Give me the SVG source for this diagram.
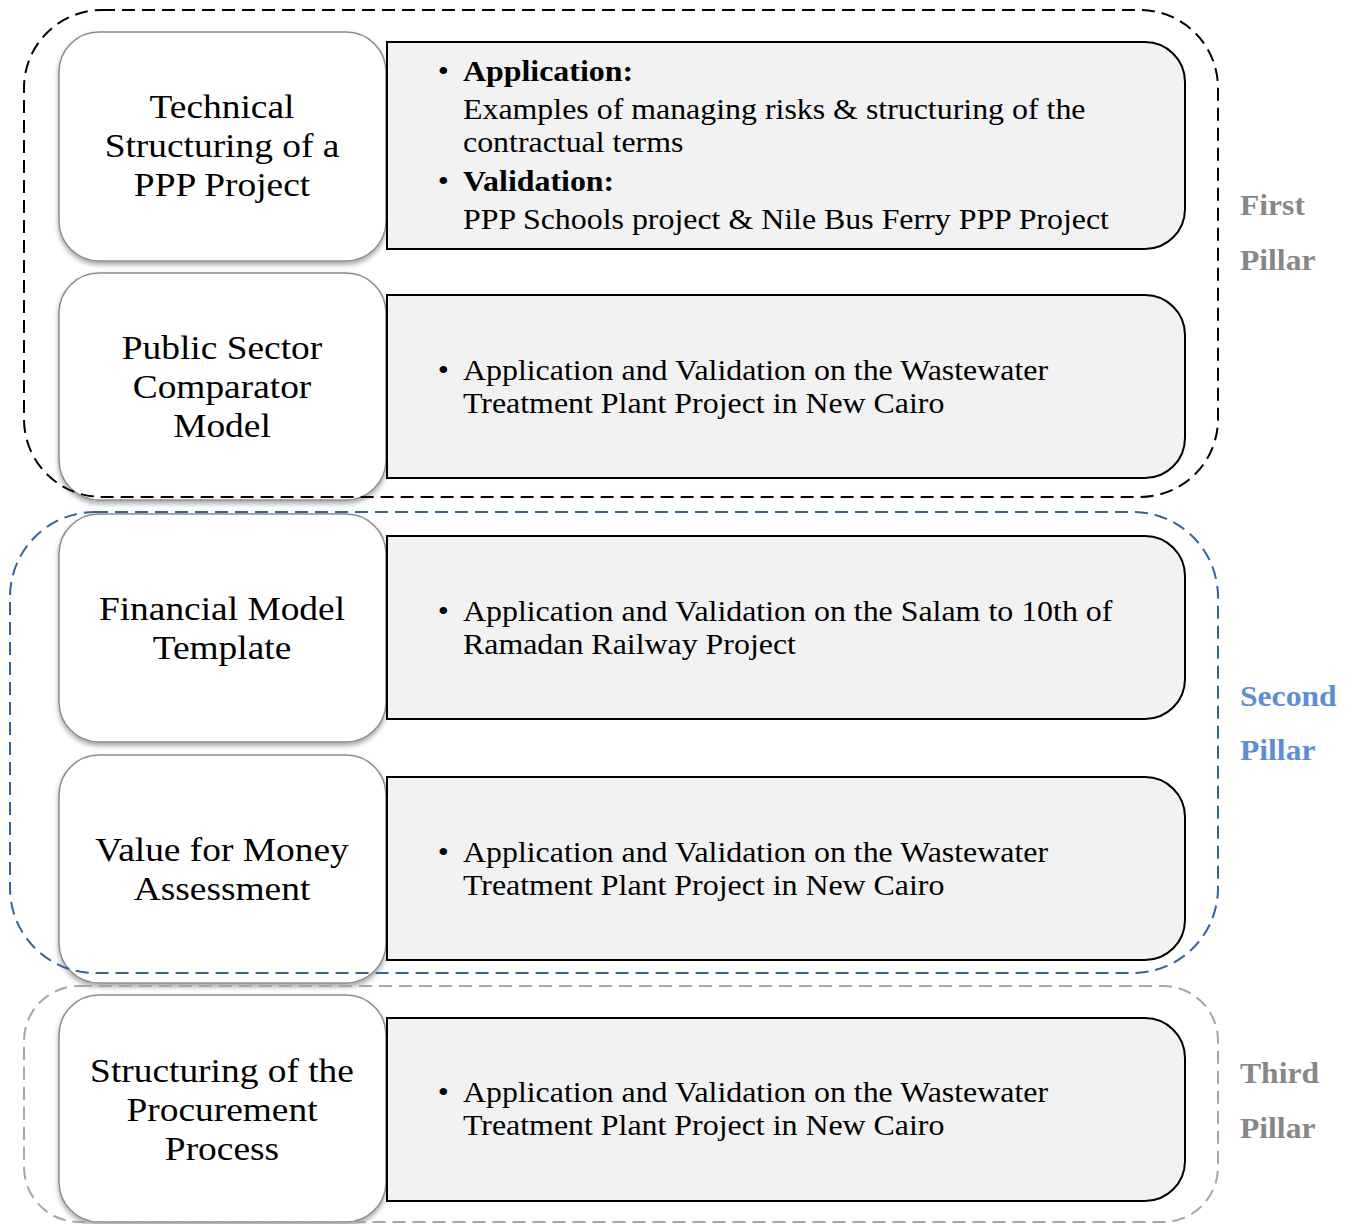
<svg xmlns="http://www.w3.org/2000/svg" width="1355" height="1224" viewBox="0 0 1355 1224">
<style>
.lbox{fill:#fff;stroke:#8c8c8c;stroke-width:1.5;filter:url(#sh)}
.rbox{fill:#f2f2f2;stroke:#000;stroke-width:2}
.lt{font-family:"Liberation Serif",serif;font-size:34px;fill:#000;text-anchor:middle}
.rt{font-family:"Liberation Serif",serif;font-size:29px;fill:#000}
.b{font-weight:bold}
.pl{font-family:"Liberation Serif",serif;font-size:29px;font-weight:bold}
.c{fill:none;stroke-width:2;stroke-dasharray:13 7}
</style>
<defs>
<filter id="sh" x="-10%" y="-10%" width="120%" height="125%">
<feDropShadow dx="0" dy="3" stdDeviation="2.5" flood-color="#000" flood-opacity="0.35"/>
</filter>
</defs>
<rect width="1355" height="1224" fill="#fff"/>

<g id="rows">
<g id="row1">
<rect class="lbox" x="59" y="32" width="327" height="229" rx="40"/>
<g transform="translate(222 0) scale(1.1 1) translate(-222 0)">
<text class="lt" x="222" y="118">Technical</text>
<text class="lt" x="222" y="157">Structuring of a</text>
<text class="lt" x="222" y="196">PPP Project</text>
</g>
<path class="rbox" d="M387 42 H1145 A40 40 0 0 1 1185 82 V209 A40 40 0 0 1 1145 249 H387 Z"/>
<g transform="translate(463 0) scale(1.1 1) translate(-463 0)">
<text class="rt" x="440" y="81">•</text><text class="rt b" x="463" y="81">Application:</text>
<text class="rt" x="463" y="119">Examples of managing risks &amp; structuring of the</text>
<text class="rt" x="463" y="152">contractual terms</text>
<text class="rt" x="440" y="191">•</text><text class="rt b" x="463" y="191">Validation:</text>
<text class="rt" x="463" y="229">PPP Schools project &amp; Nile Bus Ferry PPP Project</text>
</g>
</g>
<g id="row2">
<rect class="lbox" x="59" y="273" width="327" height="227" rx="40"/>
<g transform="translate(222 0) scale(1.1 1) translate(-222 0)">
<text class="lt" x="222" y="359">Public Sector</text>
<text class="lt" x="222" y="398">Comparator</text>
<text class="lt" x="222" y="437">Model</text>
</g>
<path class="rbox" d="M387 295 H1145 A40 40 0 0 1 1185 335 V438 A40 40 0 0 1 1145 478 H387 Z"/>
<g transform="translate(463 0) scale(1.1 1) translate(-463 0)">
<text class="rt" x="440" y="380">•</text><text class="rt" x="463" y="380">Application and Validation on the Wastewater</text>
<text class="rt" x="463" y="413">Treatment Plant Project in New Cairo</text>
</g>
</g>
<g id="row3">
<rect class="lbox" x="59" y="514" width="327" height="228" rx="40"/>
<g transform="translate(222 0) scale(1.1 1) translate(-222 0)">
<text class="lt" x="222" y="620">Financial Model</text>
<text class="lt" x="222" y="659">Template</text>
</g>
<path class="rbox" d="M387 536 H1145 A40 40 0 0 1 1185 576 V679 A40 40 0 0 1 1145 719 H387 Z"/>
<g transform="translate(463 0) scale(1.1 1) translate(-463 0)">
<text class="rt" x="440" y="621">•</text><text class="rt" x="463" y="621">Application and Validation on the Salam to 10th of</text>
<text class="rt" x="463" y="654">Ramadan Railway Project</text>
</g>
</g>
<g id="row4">
<rect class="lbox" x="59" y="755" width="327" height="228" rx="40"/>
<g transform="translate(222 0) scale(1.1 1) translate(-222 0)">
<text class="lt" x="222" y="861">Value for Money</text>
<text class="lt" x="222" y="900">Assessment</text>
</g>
<path class="rbox" d="M387 777 H1145 A40 40 0 0 1 1185 817 V920 A40 40 0 0 1 1145 960 H387 Z"/>
<g transform="translate(463 0) scale(1.1 1) translate(-463 0)">
<text class="rt" x="440" y="862">•</text><text class="rt" x="463" y="862">Application and Validation on the Wastewater</text>
<text class="rt" x="463" y="895">Treatment Plant Project in New Cairo</text>
</g>
</g>
<g id="row5">
<rect class="lbox" x="59" y="995" width="327" height="227" rx="40"/>
<g transform="translate(222 0) scale(1.1 1) translate(-222 0)">
<text class="lt" x="222" y="1082">Structuring of the</text>
<text class="lt" x="222" y="1121">Procurement</text>
<text class="lt" x="222" y="1160">Process</text>
</g>
<path class="rbox" d="M387 1018 H1145 A40 40 0 0 1 1185 1058 V1161 A40 40 0 0 1 1145 1201 H387 Z"/>
<g transform="translate(463 0) scale(1.1 1) translate(-463 0)">
<text class="rt" x="440" y="1102">•</text><text class="rt" x="463" y="1102">Application and Validation on the Wastewater</text>
<text class="rt" x="463" y="1135">Treatment Plant Project in New Cairo</text>
</g>
</g>
</g>

<g id="pillars">
<rect class="c" x="24" y="10" width="1194" height="487" rx="78" stroke="#000"/>
<rect class="c" x="10" y="512" width="1208" height="461" rx="85" stroke="#35629a"/>
<rect class="c" x="24" y="986" width="1194" height="236" rx="55" stroke="#a6a6a6"/>
<g transform="translate(1240 0) scale(1.09 1) translate(-1240 0)">
<text class="pl" x="1240" y="215" fill="#878787">First</text>
<text class="pl" x="1240" y="270" fill="#878787">Pillar</text>
<text class="pl" x="1240" y="706" fill="#5b8ed6">Second</text>
<text class="pl" x="1240" y="760" fill="#5b8ed6">Pillar</text>
<text class="pl" x="1240" y="1083" fill="#878787">Third</text>
<text class="pl" x="1240" y="1138" fill="#878787">Pillar</text>
</g>
</g>
</svg>
